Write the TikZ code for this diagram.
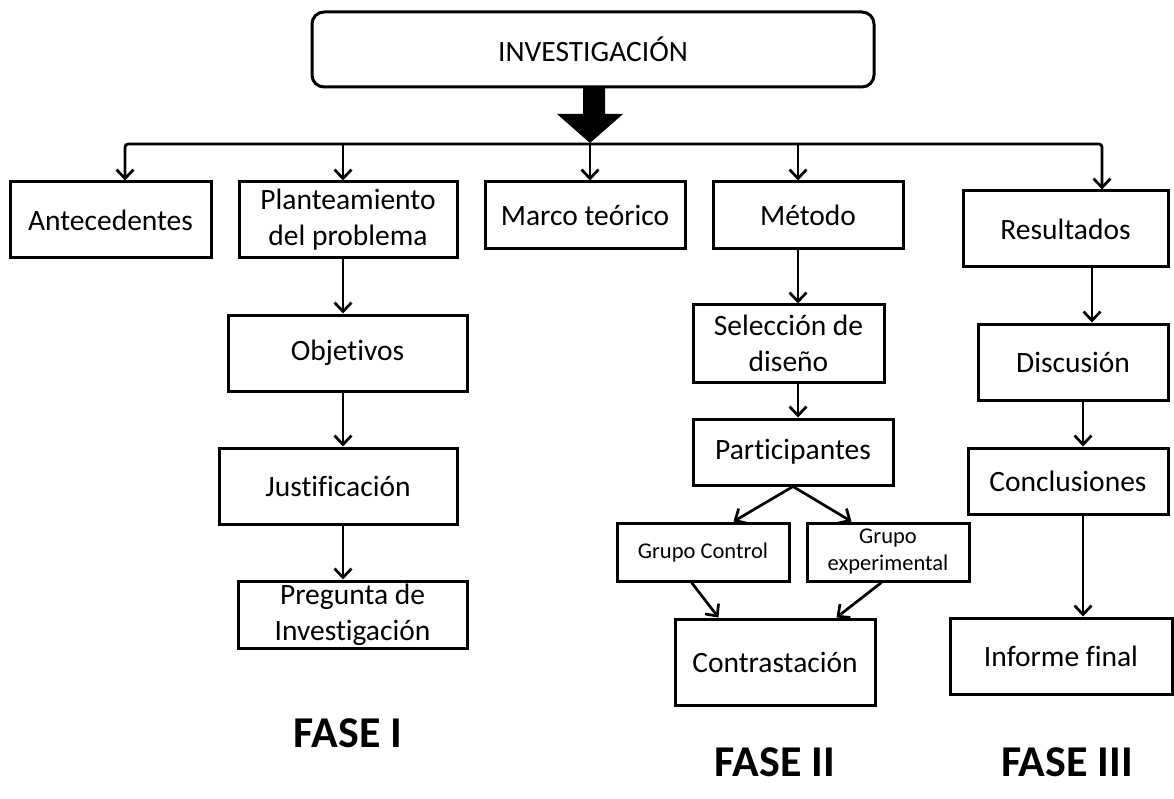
\documentclass[tikz,border=0pt]{standalone}
\usepackage{fontspec}
\setmainfont{Carlito}[RawFeature={-liga}]
\usetikzlibrary{arrows.meta,calc}
\begin{document}
\begin{tikzpicture}[x=1pt,y=-1pt,
  box/.style={draw, line width=3pt, inner sep=0pt, align=center, font=\fontsize{29.5}{36}\selectfont},
  sbox/.style={box, font=\fontsize{22.5}{27}\selectfont},
  arr/.style={line width=2.7pt, -{Straight Barb[length=9pt,width=17pt]}},
  fase/.style={font=\fontsize{44}{50}\selectfont\bfseries, inner sep=0pt}]
\useasboundingbox (0,0) rectangle (1174,799);
\fill[white] (0,0) rectangle (1174,799);

% top
\node[box, rounded corners=12pt, minimum width=562pt, minimum height=75pt] (top) at (593,49.5) {INVESTIGACIÓN};

% first row
\node[box, minimum width=201pt, minimum height=76pt] (ant) at (110.5,220) {Antecedentes};
\node[box, minimum width=218pt, minimum height=76pt] (plan) at (348,220) {Planteamiento\\del problema};
\node[box, minimum width=200pt, minimum height=67pt] (marco) at (585,215.5) {Marco teórico};
\node[box, minimum width=190pt, minimum height=67pt] (met) at (808,215.5) {Método};
\node[box, minimum width=205pt, minimum height=76pt] (res) at (1065.5,229) {Resultados};

% fase I column
\node[box, minimum width=239pt, minimum height=76pt] (obj) at (347.5,353) {Objetivos};
\node[box, minimum width=238pt, minimum height=76pt] (just) at (338,486) {Justificación};
\node[box, minimum width=229pt, minimum height=67pt] (preg) at (352.5,614.5) {Pregunta de\\Investigación};

% fase II column
\node[box, minimum width=191pt, minimum height=77pt] (sel) at (788.5,343.5) {Selección de\\diseño};
\node[box, minimum width=200pt, minimum height=66pt] (part) at (793,452) {Participantes};
\node[sbox, minimum width=172pt, minimum height=58pt] (gc) at (703,552) {Grupo Control};
\node[sbox, minimum width=162pt, minimum height=58pt] (ge) at (888,552) {Grupo\\experimental};
\node[box, minimum width=200pt, minimum height=86pt] (con) at (775,662) {Contrastación};

% fase III column
\node[box, minimum width=190pt, minimum height=76pt] (disc) at (1073,362) {Discusión};
\node[box, minimum width=200pt, minimum height=66pt] (concl) at (1068,481) {Conclusiones};
\node[box, minimum width=222pt, minimum height=76pt] (inf) at (1061,656) {Informe final};

% big arrow
\fill (583,87) -- (605,87) -- (605,114) -- (623,114) -- (590,143) -- (557,114) -- (583,114) -- cycle;

% distribution line
\coordinate (hub) at (590,144);
\coordinate (b1) at (125,144);
\coordinate (b2) at (343,144);
\coordinate (b4) at (798,144);
\coordinate (b5) at (1102,144);
\draw[arr, rounded corners=3pt] (hub) -- (b1) -- (b1 |- ant.north);
\draw[arr, rounded corners=3pt] (hub) -- (b5) -- (b5 |- res.north);
\draw[arr] (b2) -- (b2 |- plan.north);
\draw[arr] (hub) -- (hub |- marco.north);
\draw[arr] (b4) -- (b4 |- met.north);

% fase I arrows
\draw[arr] (b2 |- plan.south) -- (b2 |- obj.north);
\draw[arr] (b2 |- obj.south) -- (b2 |- just.north);
\draw[arr] (b2 |- just.south) -- (b2 |- preg.north);

% fase II arrows
\draw[arr] (b4 |- met.south) -- (b4 |- sel.north);
\draw[arr] (b4 |- sel.south) -- (b4 |- part.north);
\draw[arr] (part.south) -- ($(gc.north west)+(118,0)$);
\draw[arr] (part.south) -- ($(ge.north west)+(46,0)$);
\draw[arr] ($(gc.south west)+(76,0)$) -- ($(con.north west)+(45,0)$);
\draw[arr] ($(ge.south west)+(76,0)$) -- ($(con.north west)+(163,0)$);

% fase III arrows
\coordinate (c1) at (1092,0);
\coordinate (c2) at (1083,0);
\draw[arr] (c1 |- res.south) -- (c1 |- disc.north);
\draw[arr] (c2 |- disc.south) -- (c2 |- concl.north);
\draw[arr] (c2 |- concl.south) -- (c2 |- inf.north);

% phase labels
\node[fase] (f1) at (348,733) {FASE I};
\node[fase] (f2) at (775,762) {FASE II};
\node[fase] (f3) at (1067,762) {FASE III};
\end{tikzpicture}
\end{document}
